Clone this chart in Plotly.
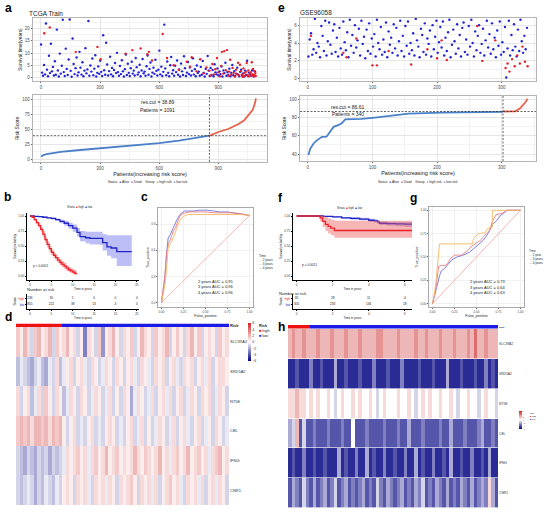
import plotly.graph_objects as go

W, H = 550, 513
FONT = 'Liberation Sans'

# ---- a: TCGA train ----
a_alive_time = [
    13.5, 2.1, 0.8, 5.2, 1.4, 22.0, 3.3, 0.6, 8.9, 1.9, 13.8, 2.6, 4.4, 0.9, 6.7, 1.2, 19.5, 3.0, 0.5, 9.8,
    1.7, 4.9, 23.5, 2.3, 0.7, 11.8, 3.6, 1.1, 7.4, 23.6, 2.8, 0.4, 15.9, 5.6, 1.5, 3.9, 8.2, 0.9, 2.2, 10.5,
    4.1, 1.3, 6.3, 0.6, 2.9, 12.0, 1.8, 3.4, 23.0, 0.8, 5.0, 2.5, 7.8, 1.0, 3.7, 9.1, 0.5, 2.0, 4.6, 1.6,
    6.9, 2.4, 0.7, 17.2, 3.1, 1.2, 14.2, 5.4, 0.9, 2.7, 8.5, 1.4, 4.0, 0.6, 3.2, 6.0, 1.9, 10.1, 2.3, 0.8,
    4.8, 1.5, 7.1, 2.6, 0.5, 3.5, 9.4, 1.1, 5.7, 2.0, 0.7, 3.9, 6.5, 1.7, 2.9, 0.9, 8.0, 4.3, 1.3, 2.2,
    5.3, 0.6, 3.0, 7.6, 1.8, 2.5, 0.8, 4.7, 9.0, 1.2, 3.6, 6.2, 0.5, 2.1, 4.1, 1.6, 7.3, 2.8, 0.9, 3.3,
    11.0, 1.4, 4.5, 0.7, 2.4, 21.5, 3.8, 1.0, 6.6, 2.0, 0.6, 5.1, 8.4, 1.7, 3.1, 0.8, 4.9, 2.3, 7.0, 1.2,
    3.4, 0.5, 5.8, 2.6, 1.1, 8.7, 3.9, 0.7, 2.1, 6.4, 1.5, 4.2, 0.9, 2.8, 7.9, 1.3, 3.5, 0.6, 5.0, 1.9,
    2.5, 0.8, 4.4, 1.2, 6.8, 2.0, 0.5, 3.6, 1.6, 8.8, 2.9, 0.7, 4.0, 1.1, 3.2, 0.6, 5.5, 2.2, 1.4, 3.8,
    0.9, 2.6, 1.5, 4.6, 0.5, 3.0, 1.9, 6.1, 0.8, 2.3, 1.2, 3.7, 0.6, 2.0, 5.2, 1.0, 2.7, 0.7, 1.7, 4.1,
    1.3, 0.6, 2.4, 3.3, 0.9, 1.8, 0.5, 2.9, 1.1, 6.9, 0.7, 2.1, 1.5, 0.8, 3.0, 1.2, 0.6, 2.5,
]
a_alive_rank = list(range(1, 5 * len(a_alive_time) + 1, 5))
a_dead_rank = [17, 45, 177, 287, 303, 430, 464, 506, 540, 548, 564, 618, 640, 673, 700,
               740, 757, 765, 790, 808, 825, 840, 855, 862, 870, 878, 885, 893, 900, 908,
               915, 918, 925, 930, 938, 944, 950, 955, 960, 966, 972, 978, 984, 990, 995,
               1000, 1005, 1010, 1015, 1020, 1024, 1028, 1032, 1036, 1040, 1044, 1048, 1052, 1056, 1060,
               1064, 1068, 1070, 1073, 1076, 1079, 1082, 1085, 1088, 1090]
a_dead_time = [18.0, 20.4, 10.5, 12.5, 7.5, 9.8, 11.2, 11.9, 9.5, 10.5, 7.0, 17.7, 8.0, 5.1, 3.2,
               6.5, 4.5, 8.3, 2.6, 7.5, 1.8, 4.2, 2.9, 0.9, 5.6, 1.4, 3.5, 8.0, 2.2, 0.6,
               4.8, 10.5, 1.7, 10.8, 3.1, 11.2, 0.8, 2.5, 7.3, 1.2, 4.0, 2.0, 0.5, 3.3, 1.5,
               6.1, 0.9, 5.3, 2.7, 1.3, 0.4, 3.8, 1.9, 0.7, 2.4, 6.0, 1.1, 3.0, 0.6, 1.6,
               2.2, 0.9, 6.3, 1.4, 3.6, 0.5, 2.8, 1.0, 1.9, 0.7]
a_low_rank = [1, 10, 30, 60, 100, 200, 300, 400, 500, 600, 700, 780, 855]
a_low_risk = [4.0, 6.0, 8.3, 10.2, 12.0, 15.0, 17.8, 20.3, 23.0, 26.5, 30.5, 34.5, 38.8]
a_high_rank = [856, 900, 950, 980, 1000, 1030, 1045, 1060, 1075, 1085, 1091]
a_high_risk = [39.0, 45.0, 50.0, 54.0, 58.0, 64.0, 70.0, 75.0, 82.0, 92.0, 101.0]
a_cut, a_n, a_low_n = 38.89, 1091, 855

# ---- e: GSE96058 ----
e_alive_time = [
    2.5, 4.4, 5.1, 2.7, 3.3, 6.7, 2.9, 4.0, 3.6, 2.4, 5.9, 4.8, 3.1, 6.5, 2.6, 4.2, 6.3, 3.8, 2.8, 5.4,
    6.1, 3.0, 4.6, 2.5, 5.7, 3.4, 2.7, 6.4, 4.1, 3.2, 5.2, 2.4, 6.6, 3.7, 4.9, 2.9, 6.0, 3.5, 4.3, 5.6,
    2.6, 6.5, 3.9, 4.7, 2.3, 5.5, 3.1, 6.2, 2.8, 4.5, 3.6, 5.0, 2.5, 6.6, 4.0, 3.3, 5.8, 2.7, 4.4, 3.0,
    6.3, 2.4, 5.3, 3.8, 4.6, 2.9, 6.1, 3.4, 5.7, 2.6, 4.2, 6.5, 3.1, 4.8, 2.5, 5.9, 3.7, 6.4, 2.8, 4.0,
    3.2, 5.1, 2.6, 6.7, 4.3, 3.6, 2.4, 5.6, 4.9, 3.0, 6.2, 2.7, 4.5, 3.9, 5.4, 2.5, 6.0, 3.3, 4.7, 6.5,
    2.9, 4.1, 5.8, 3.5, 6.4, 2.6, 4.6, 3.1, 5.2, 6.6, 2.4, 3.8, 5.5, 4.2, 2.8, 6.1, 3.4, 4.9, 2.5, 5.7,
    6.3, 3.0, 4.4, 2.7, 5.9, 3.6, 6.6, 4.0, 2.5, 5.3, 3.2, 4.8, 6.0, 2.9, 3.9, 5.6, 2.6, 4.3, 6.5, 3.5,
    5.0, 2.8, 6.2, 3.3, 4.6, 2.4, 5.4, 3.7, 6.4, 2.7, 4.1, 3.0, 5.8, 0.15, 3.4, 6.5, 2.6, 4.9, 3.2, 6.1,
    3.6, 2.5, 5.5, 3.1, 6.6, 4.2, 2.9, 4.8, 3.3, 5.7,
]
e_alive_rank = list(range(1, 2 * len(e_alive_time) + 1, 2))
e_dead_rank = [5, 55, 60, 75, 100, 107, 125, 160, 185, 200, 207, 215, 262, 270, 290,
               306, 309, 312, 316, 320, 324, 328, 332, 336, 340]
e_dead_time = [4.8, 2.9, 2.4, 4.5, 1.5, 1.5, 3.1, 1.6, 3.3, 2.3, 4.3, 2.1, 5.9, 2.0, 4.3,
               1.2, 1.7, 0.8, 2.2, 1.4, 2.6, 1.7, 3.6, 1.9, 1.4]
e_low_rank = [1, 4, 9, 14, 22, 29, 34, 40, 47, 53, 58, 83, 104, 130, 156, 207, 302]
e_low_risk = [39, 46, 51.6, 55, 58.9, 59, 64, 69.8, 71.6, 74, 78, 78.5, 80, 82.5, 84.4, 85.4, 86.3]
e_high_rank = [303, 321, 328, 333, 337, 340]
e_high_risk = [86.6, 86.9, 89.8, 93.4, 97, 100.5]
e_cut, e_n, e_low_n = 86.61, 340, 302

# ---- b: KM TCGA ----
b_high_t = [0, 0.5, 1, 1.5, 2, 2.5, 3, 3.5, 4, 4.5, 5, 5.5, 6, 6.5, 7, 7.5, 8, 8.5, 9, 9.5, 10, 10.5, 10.9]
b_high_s = [1, 0.98, 0.94, 0.89, 0.84, 0.78, 0.70, 0.61, 0.53, 0.46, 0.40, 0.35, 0.31, 0.27, 0.23, 0.20,
            0.17, 0.14, 0.11, 0.09, 0.07, 0.05, 0.04]
b_high_lo = [1, 0.97, 0.92, 0.86, 0.80, 0.74, 0.65, 0.56, 0.48, 0.41, 0.35, 0.30, 0.26, 0.22, 0.18, 0.15,
             0.12, 0.09, 0.07, 0.05, 0.03, 0.02, 0.01]
b_high_up = [1, 0.99, 0.96, 0.92, 0.88, 0.82, 0.75, 0.66, 0.58, 0.51, 0.45, 0.40, 0.36, 0.32, 0.28, 0.25,
             0.22, 0.19, 0.16, 0.14, 0.12, 0.10, 0.09]
b_low_t = [0, 1, 2, 3, 4, 5, 6, 7, 8, 9, 10, 11, 11.7, 13, 14, 16.4, 17, 18, 19, 20.3, 23.8]
b_low_s = [1, 0.995, 0.99, 0.98, 0.97, 0.96, 0.94, 0.91, 0.88, 0.84, 0.80, 0.73, 0.66, 0.64, 0.63, 0.63,
           0.56, 0.49, 0.47, 0.41, 0.41]
b_low_lo = [1, 0.99, 0.98, 0.97, 0.96, 0.94, 0.92, 0.88, 0.84, 0.79, 0.74, 0.66, 0.58, 0.55, 0.53, 0.52,
            0.43, 0.34, 0.30, 0.17, 0.17]
b_low_up = [1, 1, 1, 0.99, 0.98, 0.97, 0.96, 0.94, 0.92, 0.89, 0.86, 0.80, 0.75, 0.74, 0.74, 0.74,
            0.70, 0.68, 0.68, 0.68, 0.68]
b_tab_t = [0, 5, 10, 15, 20, 25]
b_tab_high = [236, 30, 2, 0, 0, 0]
b_tab_low = [855, 222, 38, 13, 4, 0]

# ---- f: KM GSE96058 ----
f_high_t = [0, 1.3, 1.45, 1.6, 1.75, 1.9, 2.1, 6.5]
f_high_s = [1, 0.97, 0.91, 0.86, 0.83, 0.80, 0.76, 0.76]
f_high_lo = [1, 0.91, 0.82, 0.75, 0.71, 0.68, 0.64, 0.64]
f_high_up = [1, 1, 1, 0.98, 0.96, 0.94, 0.92, 0.92]
f_low_t = [0, 1.5, 2, 2.5, 3, 3.5, 4, 4.3, 4.5, 4.6, 5, 5.5, 6, 6.5]
f_low_s = [1, 0.995, 0.985, 0.97, 0.96, 0.95, 0.93, 0.92, 0.90, 0.88, 0.875, 0.87, 0.865, 0.86]
f_low_lo = [1, 0.99, 0.975, 0.955, 0.94, 0.93, 0.905, 0.895, 0.87, 0.85, 0.84, 0.83, 0.82, 0.81]
f_low_up = [1, 1, 0.995, 0.985, 0.98, 0.97, 0.955, 0.945, 0.93, 0.91, 0.905, 0.90, 0.90, 0.90]
f_tab_t = [0, 2, 4, 6]
f_tab_high = [35, 28, 11, 4]
f_tab_low = [305, 233, 146, 18]

# ---- c / g: time-dependent ROC ----
c_fpr_2 = [0, 0.02, 0.04, 0.06, 0.075, 0.09, 0.11, 0.14, 0.17, 0.21, 0.25, 0.3, 0.4, 0.5, 0.6, 0.7, 0.8, 0.9, 1.0]
c_tpr_2 = [0, 0.1, 0.21, 0.42, 0.62, 0.66, 0.69, 0.76, 0.85, 0.95, 0.99, 1.01, 1.01, 1.01, 1.01, 1.01, 1.01, 1.01, 1.0]
c_fpr_3 = [0, 0.02, 0.04, 0.057, 0.08, 0.1, 0.13, 0.16, 0.19, 0.22, 0.27, 0.32, 0.4, 0.5, 0.6, 0.7, 0.8, 0.9, 1.0]
c_tpr_3 = [0, 0.15, 0.33, 0.57, 0.68, 0.72, 0.81, 0.86, 0.95, 1.01, 1.03, 1.04, 1.04, 1.04, 1.03, 1.03, 1.03, 1.02, 1.0]
c_fpr_4 = [0, 0.02, 0.038, 0.057, 0.075, 0.1, 0.113, 0.132, 0.17, 0.21, 0.26, 0.3, 0.36, 0.43, 0.51, 0.6, 0.66,
           0.75, 0.81, 0.89, 1.0]
c_tpr_4 = [0, 0.14, 0.28, 0.55, 0.74, 0.78, 0.81, 0.85, 0.94, 1.01, 1.05, 1.05, 1.05, 1.06, 1.06, 1.05, 1.04,
           1.04, 1.03, 1.02, 1.0]
c_auc = [0.95, 0.96, 0.96]
g_fpr_2 = [0, 0.02, 0.04, 0.06, 0.08, 0.45, 0.47, 0.52, 0.6, 0.62, 0.68, 0.68, 1.0]
g_tpr_2 = [0, 0.1, 0.25, 0.42, 0.64, 0.64, 0.7, 0.75, 0.76, 0.8, 0.82, 1.0, 1.0]
g_fpr_3 = [0, 0.03, 0.05, 0.07, 0.1, 0.15, 0.18, 0.2, 0.25, 0.33, 0.4, 0.45, 0.5, 0.55, 0.58, 0.65, 0.68,
           0.72, 0.8, 0.85, 1.0]
g_tpr_3 = [0, 0.12, 0.25, 0.4, 0.41, 0.41, 0.44, 0.48, 0.52, 0.52, 0.57, 0.62, 0.65, 0.68, 0.72, 0.78, 0.88,
           0.95, 0.97, 1.0, 1.0]
g_fpr_4 = [0, 0.03, 0.06, 0.08, 0.1, 0.14, 0.18, 0.22, 0.28, 0.35, 0.42, 0.48, 0.52, 0.58, 0.63, 0.68, 0.72,
           0.78, 0.85, 1.0]
g_tpr_4 = [0, 0.1, 0.22, 0.3, 0.35, 0.38, 0.43, 0.47, 0.5, 0.52, 0.55, 0.6, 0.63, 0.68, 0.75, 0.85, 0.88,
           0.95, 1.0, 1.0]
g_auc = [0.73, 0.64, 0.63]

# ---- d / h: expression heatmaps ----
genes = ['SLC39A2', 'SRD5A2', 'NT5E', 'CEL', 'IFNG', 'CNR1']
d_expr = [
    [1.5, 0.5, 2, 1, -1, 1.5, 2, 0.5, 1, 2, -1, 1.5, 0.5, 1, 2, 0.5, 1, -1, 0.5, -3, 1, 0.5, -1, 1.5, -2.5, 0.5, 1, 2, 0.5, -1,
     1, 0.5, 1.5, -1, 0.5, 2, 1, 0.5, -1, 1.5, 0.5, 1, 2, -1, 0.5, 1.5, 0.5, -1, 1, 2, 0.5, 1.5, -1, 0.5, 1, 0.5, -1, 1.5, 0.5, 1],
    [-1.5, -0.5, -1, -1.5, -2, -1, -0.5, -1.5, -2, -0.5, -1, 1, -1.5, -0.5, 0.5, 1, -1, 0.5, 1, -0.5, -1, 1, 0.5, -1, -0.5, 1, 0.5, -1, 1, 0.5,
     -1, 0.5, 1, -0.5, -1, 1, 0.5, -0.5, -1, 1, 0.5, 1, -1, 0.5, 1, -0.5, -1, 1, 0.5, 1, -1, 0.5, 1, -0.5, 1, -1, 0.5, 1, 1, 0.5],
    [1, -1, 0.5, 1, -1.5, -0.5, 1, -1, 1.5, 0.5, -1, 1, 0.5, -1.5, -0.5, 1, 0.5, -1, 1, 0.5, -1, -0.5, 1, 0.5, -1, -0.5, 1, -1, 0.5, -1,
     1, 0.5, -2, -0.5, 1, 0.5, -1, -0.5, 1, -1, 0.5, 1, -0.5, 1, -1, 0.5, 1, -1, -0.5, 1, 0.5, -1, 1, 0.5, 1, -1, -0.5, 1, 0.5, -1],
    [1.5, 2, 1.5, 2, 1, 2, 2, 1.5, 2, 1, 2, 1.5, 2, 0.5, -1, 0.5, 1, -1, -0.5, -1, 0.5, 1, -1, -0.5, -1, 0.5, 1, 0.5, -1, -0.5,
     -1, 0.5, 1, -1, -0.5, 1, -1, 0.5, -1, -0.5, 1, 0.5, -1, -0.5, 1, -1, 0.5, 1, -0.5, -1, 0.5, 1, -1, -0.5, 0.5, -1, 1, 0.5, -1, -0.5],
    [-1, -1.5, -2, -1, -1.5, -2, -1, -1.5, -1, -2, -1, -1.5, -1, -0.5, 1, 0.5, 1, 1.5, 0.5, 1, -0.5, 1, 1.5, 0.5, 1, 2, 0.5, 1, 1.5, 0.5,
     1, 0.5, 1, 2, 1, 0.5, 1.5, 1, 0.5, 1, 2, 0.5, 1, -0.5, 1, 1.5, 0.5, 1, 2, 0.5, 1, 1.5, 0.5, 1, -0.5, 1, 1.5, 2, 0.5, 1],
    [-1, -1.5, -1, -0.5, -1, -2, -1, -1.5, -0.5, -1, -1.5, -0.5, -1, 0.5, 1, 0.5, -1, 1, 0.5, 1, -0.5, -1, 1, 0.5, 1, -0.5, 1, 0.5, -1, 1,
     0.5, 1, 1.5, 0.5, -1, 1, 0.5, 1, -0.5, 1, -1, 0.5, 1, 1.5, 0.5, 1, -0.5, -1, 1, 0.5, 1, -0.5, 1, -1, 0.5, 1, -0.5, 1, 0.5, -1],
]
h_expr = [
    [2, 3, 2, 2, 3, 2, 2, 2, 3, 2, 2, 2, 3, 2, 2, 2, 3, 2, 2, 2, 3, 2, 2, 2, 2, 3, 3, 2, 2, 2,
     2, 3, 2, 2, 2, 2, 3, 2, 2, 3, 2, 2, 2, 3, 2, 2, 2, 3, 2, 2, 2, 3, 2, 4, 2, 2, 3, 2, 2, 2],
    [-5, -5, -4, -5, -5, -5, -3, -5, -5, -4, -5, -5, -5, -2, -5, -5, -4, -5, -5, -5, -4, -5, -5, -5, -3, -5, -5, -5, -4, -5,
     -5, -5, -3, -5, -5, -5, -5, -4, -5, -5, -5, -4, -5, -5, -5, -2, -5, -5, -5, -4, -5, -5, -5, -4, -5, -5, -3, -5, -4, -5],
    [1, 1, 2, 1, 1, 0, 1, 0, 1, 0, 0, 1, 0, -1, 0, 1, 0, 0, 1, 0, 1, 0, 0, 1, 0, -1, 0, 1, 0, 0,
     0, 1, 0, 0, 1, 0, -1, 0, 1, 0, 1, 0, 0, 1, 0, 0, 1, 0, -1, 0, 0, 1, 0, 0, -1, 0, 1, 0, 0, -1],
    [-2, -1, 2, -4, -1, -4, -4, -3, -4, -4, -4, -3, -4, -4, -4, -3, -4, -4, 0, -4, -4, -4, -3, -4, -4, -4, -4, -3, -4, -4,
     -4, -3, -4, -4, -2, -4, -4, -4, -3, -4, -4, -4, -4, -3, -4, -4, -2, -4, -4, -4, -3, -4, -4, -4, -3, -2, -4, -4, -3, -4],
    [-5, -4, -5, -5, -3, -5, -5, -4, -5, -5, -4, -5, -5, -5, -2, -5, -4, -5, -5, -3, -5, -5, -2, -5, -4, -5, -5, -3, -5, -5,
     -4, -5, -5, -3, -5, -5, -2, -5, -4, -5, -5, -3, -5, -5, -4, -5, -2, -5, -5, -4, -5, -5, -3, -5, -5, -4, -5, -2, -5, -5],
    [-4, -2, -3, -4, -1, -3, -4, -2, -4, -3, -2, -4, -3, -1, -4, -3, -2, -4, -3, -4, -3, -2, -4, -3, -4, -1, -3, -4, -2, -3,
     -4, -3, -2, -4, -3, -4, -2, -3, -1, -4, -3, -4, -2, -3, -4, -2, -4, -3, -4, -2, -3, -4, -2, -4, -3, -2, -3, 1, -2, -4],
]
d_high_n, d_low_n = 236, 855
h_high_n, h_low_n = 35, 305

# colours
ALIVE, DEAD = '#2323d6', '#e8202a'
LOWC, HIGHC = '#4a80c8', '#e8604a'
KM_HIGH, KM_LOW = '#e8212a', '#1f24c4'
ROC2, ROC3, ROC4 = '#f5b860', '#ee7f7f', '#7070e0'
BAR_HIGH, BAR_LOW = '#ee1111', '#1a1ae6'
HEAT = [[0, '#000080'], [0.5, '#ffffff'], [1, '#cd2626']]

fig = go.Figure()

# subplot boxes in pixels: left, right, top, bottom
boxes = {1: (33, 267, 18, 81), 2: (33, 267, 95, 162), 3: (300, 536, 18, 81), 4: (300, 536, 96, 161),
         5: (27, 139, 213, 280), 6: (27, 139, 294, 309), 7: (158, 253, 208, 307),
         8: (293, 412, 213, 280), 9: (293, 412, 294, 309), 10: (429, 524, 207, 307),
         11: (16, 229, 323.5, 327), 12: (16, 229, 327, 505), 13: (288, 498, 325, 328.5), 14: (288, 498, 329, 508)}


def xy(n):
    return ('x' if n == 1 else f'x{n}'), ('y' if n == 1 else f'y{n}')


def keys(n):
    return ('xaxis' if n == 1 else f'xaxis{n}'), ('yaxis' if n == 1 else f'yaxis{n}')


def axfont(s, c='#4d4d4d'):
    return dict(size=s, color=c, family=FONT)


bw = dict(showline=True, mirror=True, linecolor='#b5b5b5', linewidth=0.6, showgrid=True, gridcolor='#e6e6e6',
          gridwidth=0.5, zeroline=False, ticks='outside', ticklen=1.5, tickwidth=0.5, tickcolor='#666',
          tickfont=axfont(4.5), automargin=False)
classic = dict(showline=True, mirror=False, linecolor='black', linewidth=0.5, showgrid=False, zeroline=False,
               ticks='outside', ticklen=1.5, tickwidth=0.5, tickcolor='black', tickfont=axfont(3, '#333'),
               automargin=False)
roc = dict(showline=True, mirror=True, linecolor='#aaaaaa', linewidth=0.5, showgrid=True, gridcolor='#f0f0f0',
           gridwidth=0.5, zeroline=False, ticks='outside', ticklen=1.2, tickwidth=0.4, tickcolor='#666',
           tickfont=axfont(3, '#444'), automargin=False)
hidden = dict(visible=False)

layout = {}
for n, (l, r, t, b) in boxes.items():
    xa, ya = xy(n)
    xk, yk = keys(n)
    layout[xk] = dict(domain=[l / W, r / W], anchor=ya)
    layout[yk] = dict(domain=[1 - b / H, 1 - t / H], anchor=xa)


def style(n, xs, ys):
    xk, yk = keys(n)
    layout[xk].update(xs)
    layout[yk].update(ys)


def ttl(text, size=4.8):
    return dict(text=text, font=axfont(size, '#222'), standoff=2)


MINOR = dict(showgrid=True, gridcolor='#f3f3f3', gridwidth=0.4)

# a / e axes
style(1, dict(bw, range=[-40, 1147], tick0=0, dtick=300, minor=dict(MINOR, dtick=150)),
      dict(bw, range=[-1.3, 24.2], tick0=0, dtick=5, title=ttl('Survival time(years)'), minor=dict(MINOR, dtick=2.5)))
style(2, dict(bw, range=[-40, 1147], tick0=0, dtick=300, title=ttl('Patients(increasing risk score)', 5.5),
              minor=dict(MINOR, dtick=150)),
      dict(bw, range=[-5, 106.7], tick0=0, dtick=25, title=ttl('Risk Score'), minor=dict(MINOR, dtick=12.5)))
style(3, dict(bw, range=[-12, 353], tick0=0, dtick=100, minor=dict(MINOR, dtick=50)),
      dict(bw, range=[-0.25, 6.8], tick0=0, dtick=2, title=ttl('Survival time(years)'), minor=dict(MINOR, dtick=1)))
style(4, dict(bw, range=[-12, 353], tick0=0, dtick=100, title=ttl('Patients(increasing risk score)', 5.5),
              minor=dict(MINOR, dtick=50)),
      dict(bw, range=[32.4, 103.6], tick0=40, dtick=20, title=ttl('Risk Score'), minor=dict(MINOR, dtick=10)))

km_y = dict(classic, range=[-0.06, 1.05], tickvals=[0, 0.25, 0.5, 0.75, 1],
            ticktext=['0.00', '0.25', '0.50', '0.75', '1.00'], title=ttl('Survival probability', 3))
tab_y = dict(classic, range=[-0.75, 1.75], tickvals=[0, 1],
             ticktext=[f"<span style='color:{KM_LOW}'>low</span>", f"<span style='color:{KM_HIGH}'>high</span>"],
             title=ttl('Strata', 3))
style(5, dict(classic, range=[-0.7, 25.5], tickvals=b_tab_t, title=ttl('Time in years', 3)), km_y)
style(6, dict(classic, range=[-0.7, 25.5], tickvals=b_tab_t, title=ttl('Time in years', 3)), tab_y)
style(8, dict(classic, range=[-0.2, 6.4], tickvals=f_tab_t, title=ttl('Time in years', 3)), km_y)
style(9, dict(classic, range=[-0.2, 6.4], tickvals=f_tab_t, title=ttl('Time in years', 3)), tab_y)

roc_x = dict(roc, range=[-0.04, 1.04], tickvals=[0, 0.25, 0.5, 0.75, 1],
             ticktext=['0.00', '0.25', '0.50', '0.75', '1.00'], title=ttl('False_positive', 3.5))
style(7, roc_x, dict(roc, range=[-0.05, 1.085], tickvals=[0, 0.3, 0.6, 0.9],
                     ticktext=['0.0', '0.3', '0.6', '0.9'], title=ttl('True_positive', 3.5)))
style(10, roc_x, dict(roc, range=[-0.036, 1.035], tickvals=[0, 0.25, 0.5, 0.75, 1],
                      ticktext=['0.00', '0.25', '0.50', '0.75', '1.00'], title=ttl('True_positive', 3.5)))

bar_y = lambda s: dict(side='right', showline=False, showgrid=False, zeroline=False, ticks='', automargin=False,
                       tickvals=[0], ticktext=['<b>Risk</b>'], tickfont=axfont(s, '#222'), fixedrange=True)
heat_y = lambda s: dict(side='right', showline=False, showgrid=False, zeroline=False, ticks='', automargin=False,
                        autorange='reversed', tickfont=axfont(s, '#333'))
style(11, dict(hidden, range=[0, d_high_n + d_low_n]), bar_y(4))
style(12, dict(hidden, range=[-0.5, len(d_expr[0]) - 0.5]), heat_y(4))
style(13, dict(hidden, range=[0, h_high_n + h_low_n]), bar_y(2.5))
style(14, dict(hidden, range=[-0.5, len(h_expr[0]) - 0.5]), heat_y(3.3))


def add(trace, n):
    xa, ya = xy(n)
    trace.update(xaxis=xa, yaxis=ya, showlegend=False)
    fig.add_trace(trace)


# a / e scatter and risk curves
for n, ar, at, dr, dt, size in [(1, a_alive_rank, a_alive_time, a_dead_rank, a_dead_time, 2.4),
                                (3, e_alive_rank, e_alive_time, e_dead_rank, e_dead_time, 2.4)]:
    add(go.Scatter(x=ar, y=at, mode='markers', marker=dict(color=ALIVE, size=size, line_width=0)), n)
    add(go.Scatter(x=dr, y=dt, mode='markers', marker=dict(color=DEAD, size=size, line_width=0)), n)

for n, lr, lv, hr, hv in [(2, a_low_rank, a_low_risk, a_high_rank, a_high_risk),
                          (4, e_low_rank, e_low_risk, e_high_rank, e_high_risk)]:
    add(go.Scatter(x=lr, y=lv, mode='lines', line=dict(color=LOWC, width=1.8)), n)
    add(go.Scatter(x=hr, y=hv, mode='lines', line=dict(color=HIGHC, width=1.8)), n)

shapes = []
for n, cut, low_n in [(2, a_cut, a_low_n), (4, e_cut, e_low_n)]:
    xa, ya = xy(n)
    shapes.append(dict(type='line', xref=xa, yref=f'{ya} domain', x0=low_n, x1=low_n, y0=0, y1=1,
                       line=dict(color='#222', width=0.7, dash='2px,1.5px')))
    shapes.append(dict(type='line', xref=f'{xa} domain', yref=ya, x0=0, x1=1, y0=cut, y1=cut,
                       line=dict(color='#222', width=0.7, dash='2px,1.5px')))


# KM curves with confidence bands
def km(n, t, s, lo, up, color, fill):
    add(go.Scatter(x=t, y=up, mode='lines', line=dict(width=0, shape='hv'), hoverinfo='skip'), n)
    add(go.Scatter(x=t, y=lo, mode='lines', line=dict(width=0, shape='hv'), fill='tonexty',
                   fillcolor=fill, hoverinfo='skip'), n)
    add(go.Scatter(x=t, y=s, mode='lines', line=dict(color=color, width=1.3, shape='hv')), n)


km(5, b_low_t, b_low_s, b_low_lo, b_low_up, KM_LOW, 'rgba(110,110,235,0.45)')
km(5, b_high_t, b_high_s, b_high_lo, b_high_up, KM_HIGH, 'rgba(240,90,90,0.45)')
km(8, f_low_t, f_low_s, f_low_lo, f_low_up, KM_LOW, 'rgba(110,110,235,0.45)')
km(8, f_high_t, f_high_s, f_high_lo, f_high_up, KM_HIGH, 'rgba(240,90,90,0.45)')

for n, tt, hi, lo in [(6, b_tab_t, b_tab_high, b_tab_low), (9, f_tab_t, f_tab_high, f_tab_low)]:
    add(go.Scatter(x=tt + tt, y=[1] * len(tt) + [0] * len(tt), mode='text',
                   text=[str(v) for v in hi + lo], textfont=axfont(3.2, '#222')), n)

# ROC curves
for n, curves in [(7, [(c_fpr_4, c_tpr_4, ROC4), (c_fpr_3, c_tpr_3, ROC3), (c_fpr_2, c_tpr_2, ROC2)]),
                  (10, [(g_fpr_4, g_tpr_4, ROC4), (g_fpr_3, g_tpr_3, ROC3), (g_fpr_2, g_tpr_2, ROC2)])]:
    add(go.Scatter(x=[0, 1], y=[0, 1], mode='lines', line=dict(color='#f2a0a0', width=0.8)), n)
    for fx, ty, col in curves:
        add(go.Scatter(x=fx, y=ty, mode='lines', line=dict(color=col, width=0.9)), n)

# heatmaps
for n, hn, ln in [(11, d_high_n, d_low_n), (13, h_high_n, h_low_n)]:
    add(go.Heatmap(z=[[1, 0]], x=[0, hn, hn + ln], y=[0], colorscale=[[0, BAR_LOW], [1, BAR_HIGH]],
                   showscale=False, hoverinfo='skip'), n)

cb_ticks = [6, 4, 2, 0, -2, -4, -6]
add(go.Heatmap(z=d_expr, y=genes, colorscale=HEAT, zmin=-6, zmax=6,
               colorbar=dict(x=248 / W, xanchor='left', y=1 - 342 / H, yanchor='middle', len=38, lenmode='pixels',
                             thickness=3, outlinewidth=0, tickvals=cb_ticks, ticks='', ypad=0, xpad=0,
                             tickfont=axfont(3.5, '#333'))), 12)
add(go.Heatmap(z=h_expr, y=genes, colorscale=HEAT, zmin=-6, zmax=6, ygap=0.6,
               colorbar=dict(x=519 / W, xanchor='left', y=1 - 420 / H, yanchor='middle', len=18, lenmode='pixels',
                             thickness=2.5, outlinewidth=0, tickvals=cb_ticks, ticks='', ypad=0, xpad=0,
                             tickfont=axfont(1.8, '#333'))), 14)

# ---- annotations ----
ann = []


def note(x, y, text, size, color='#222', anchor='center', bold=False):
    ann.append(dict(xref='paper', yref='paper', x=x / W, y=1 - y / H, text=f'<b>{text}</b>' if bold else text,
                    showarrow=False, font=dict(size=size, color=color, family=FONT), xanchor=anchor,
                    yanchor='middle', align='left'))


def dnote(n, x, y, text, size, anchor='center', color='#222'):
    xa, ya = xy(n)
    ann.append(dict(xref=xa, yref=ya, x=x, y=y, text=text, showarrow=False, xanchor=anchor, yanchor='middle',
                    font=dict(size=size, color=color, family=FONT)))


for letter, x, y in [('a', 3, 8), ('e', 276, 8), ('b', 2, 197), ('c', 139, 197), ('d', 3, 317),
                     ('f', 276, 198), ('g', 408, 198), ('h', 276, 327)]:
    note(x, y, letter, 12, color='black', anchor='left', bold=True)

note(27, 13.5, 'TCGA Train', 6.5, anchor='left')
note(298, 12.5, 'GSE96058', 6.5, anchor='left')

dnote(2, 591, 95, f'res.cut = {a_cut}', 5)
dnote(2, 591, 82, f'Patients = {a_n}', 5)
dnote(4, 62, 91.6, f'res.cut = {e_cut}', 5)
dnote(4, 62, 84, f'Patients = {e_n}', 5)

dot = lambda c: f"<span style='color:{c}'>●</span>"
sq = lambda c: f"<span style='color:{c}'>■</span>"
line_key = lambda c: f"<span style='color:{c}'>—</span>"
leg = (f"Status  {dot(ALIVE)} Alive  {dot(DEAD)} Dead    Group  {dot(HIGHC)} high risk  {dot(LOWC)} low risk")
note(148, 182, leg, 3.3)
note(418, 182, leg, 3.3)

note(80, 207, f"Strata  {sq(KM_HIGH)} high  {sq(KM_LOW)} low", 2.8)
note(350, 208, f"Strata  {sq(KM_HIGH)} high  {sq(KM_LOW)} low", 2.8)
dnote(5, 0.2, 0.176, 'p < 0.0001', 3.2, anchor='left')
dnote(8, 0.18, 0.19, 'p = 0.0011', 3.2, anchor='left')
note(25, 289.5, 'Number at risk', 4.2, anchor='left')
note(277, 293.5, 'Number at risk', 4.2, anchor='left')

for n, auc, xc, ys, first in [(7, c_auc, 0.62, [0.245, 0.18, 0.115], '2 years'),
                              (10, g_auc, 0.63, [0.24, 0.178, 0.118], '2 years')]:
    for lab, v, yy in zip([first, '3 years', '4 years'], auc, ys):
        dnote(n, xc, yy, f'{lab} AUC = {v:.2f}', 4)

note(257, 262, f"Time<br>{line_key(ROC2)} 2 years<br>{line_key(ROC3)} 3 years<br>{line_key(ROC4)} 4 years", 3,
     anchor='left')
note(527, 257, f"Time<br>{line_key(ROC2)} 2 year<br>{line_key(ROC3)} 3 years<br>{line_key(ROC4)} 4 years", 3,
     anchor='left')

note(257, 331, f"<b>Risk</b><br>{sq(BAR_HIGH)} high<br>{sq(BAR_LOW)} low", 3.8, anchor='left')
note(528, 416, f"Risk<br>{sq(BAR_HIGH)} high<br>{sq(BAR_LOW)} low", 2.2, anchor='left')

fig.update_layout(layout)
fig.update_layout(width=W, height=H, margin=dict(l=0, r=0, t=0, b=0, autoexpand=False), paper_bgcolor='white',
                  plot_bgcolor='white', font=dict(family=FONT), shapes=shapes, annotations=ann, showlegend=False)
# the page body has a default 8px margin; drop it so the figure fills the window exactly
fig.write_html('out.html', config={'displayModeBar': False},
               post_script="document.body.style.margin='0px';")
